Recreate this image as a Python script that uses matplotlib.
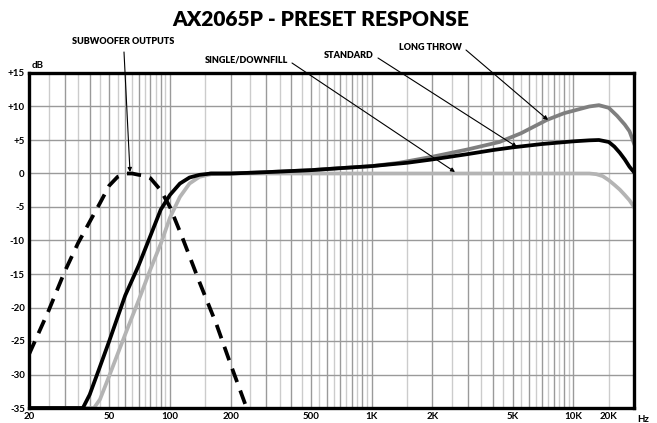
import numpy as np
import matplotlib
matplotlib.use("Agg")
import matplotlib.pyplot as plt

plt.rcParams['font.family'] = ['Lato', 'DejaVu Sans']
plt.rcParams['font.weight'] = 'bold'

# --- data (Hz, dB) ---
sub_f = [20, 25, 30, 35, 40, 45, 50, 55, 60, 65, 70, 75, 80, 90, 100, 115, 140, 170, 200, 240]
sub_db = [-27, -20.5, -14.7, -10.4, -7.2, -4.4, -1.8, -0.5, 0, 0, -0.2, -0.3, -0.7, -2.5, -5, -9.5, -16.2, -22.5, -28.5, -35]

std_f = [20, 37, 40, 45, 50, 60, 70, 80, 90, 100, 112, 125, 140, 160, 200, 300, 500, 700,
         1000, 1500, 2000, 3000, 4000, 5000, 7000, 10000, 12000, 13400, 15000, 16000, 17000, 18000, 19000, 20000]
std_db = [-35, -35, -33, -28.8, -25, -18.2, -13.7, -9.3, -5.4, -3.2, -1.5, -0.6, -0.2, 0, 0, 0.2, 0.5, 0.8,
          1.1, 1.6, 2.1, 2.9, 3.5, 3.9, 4.4, 4.8, 4.95, 5, 4.7, 4.0, 3.1, 2.1, 1.0, 0.2]

single_f = [20, 42, 45, 50, 60, 70, 80, 90, 100, 112, 125, 140, 160, 200, 1000, 10000, 12000,
            13000, 14000, 15000, 16000, 17000, 18000, 19000, 20000]
single_db = [-35, -35, -33.7, -30.2, -24, -18.9, -14.3, -10.5, -6.6, -3.5, -1.5, -0.5, -0.1, 0, 0, 0, 0,
             -0.1, -0.4, -1.0, -1.7, -2.4, -3.2, -4.0, -5]

long_f = [160, 200, 300, 500, 700, 1000, 1370, 2000, 3000, 4300, 5500, 7400, 9000, 10700, 12000,
          13400, 15000, 16500, 18000, 19000, 20000]
long_db = [0, 0, 0.2, 0.5, 0.8, 1.1, 1.6, 2.5, 3.6, 4.7, 6.0, 8.0, 9.0, 9.6, 10.0,
           10.2, 9.8, 8.6, 7.3, 6.3, 4.5]

x_ticks = [20, 50, 100, 200, 500, 1000, 2000, 5000, 10000, 15000]
x_labels = ['20', '50', '100', '200', '500', '1K', '2K', '5K', '10K', '20K']
y_ticks = [15, 10, 5, 0, -5, -10, -15, -20, -25, -30, -35]
y_labels = ['+15', '+10', '+5', '0', '-5', '-10', '-15', '-20', '-25', '-30', '-35']

fig = plt.figure(figsize=(6.57, 4.23), dpi=100)
ax = fig.add_axes([29 / 657, 15 / 423, 605 / 657, 335 / 423])
ax.set_xscale('log')
ax.set_xlim(20, 20000)
ax.set_ylim(-35, 15)

# grid: integer multiples darker, half steps lighter
for dec in [10, 100, 1000, 10000]:
    for m in np.arange(1, 10, 0.5):
        f = m * dec
        if 20 < f < 20000:
            c = '#9a9a9a' if m == int(m) else '#cccccc'
            ax.axvline(f, color=c, lw=1.0, zorder=0)
for y in y_ticks[1:-1]:
    ax.axhline(y, color='#9a9a9a', lw=1.0, zorder=0)

ax.plot(single_f, single_db, color='#b4b4b4', lw=2.7, zorder=2)
ax.plot(long_f, long_db, color='#7f7f7f', lw=2.7, zorder=2.5)
ax.plot(std_f, std_db, color='black', lw=2.7, zorder=3)
ax.plot(sub_f, sub_db, color='black', lw=2.7, linestyle=(0, (3.8, 2.4)), zorder=4)

ax.set_xticks(x_ticks)
ax.set_xticklabels(x_labels)
ax.xaxis.set_minor_locator(matplotlib.ticker.NullLocator())
ax.set_yticks(y_ticks)
ax.set_yticklabels(y_labels)
ax.tick_params(length=0, labelsize=7, pad=3)
for s in ax.spines.values():
    s.set_linewidth(2.4)
    s.set_zorder(5)

ax.text(1.005, -0.02, 'Hz', transform=ax.transAxes, fontsize=7, fontweight='bold',
        ha='left', va='top')
ax.text(0.005, 1.01, 'dB', transform=ax.transAxes, fontsize=7, fontweight='bold',
        ha='left', va='bottom')

fig.suptitle('AX2065P - PRESET RESPONSE', x=321 / 657, y=1 - 20 / 423, va='center',
             fontsize=15, fontweight='heavy')

# annotations (pixel positions converted to figure fractions)
def fp(x, y):
    return (x / 657, 1 - y / 423)

notes = [
    ('SUBWOOFER OUTPUTS', (123, 42), (124, 52), (130, 172), 'center'),
    ('SINGLE/DOWNFILL', (288, 60), (292, 63), (455, 172), 'right'),
    ('STANDARD', (374, 55), (378, 58), (517, 147), 'right'),
    ('LONG THROW', (462, 47), (466, 50), (548, 120), 'right'),
]
for txt, tpos, start, end, ha in notes:
    fig.text(*fp(*tpos), txt, fontsize=6.5, fontweight='heavy', ha=ha, va='center')
    fig.add_artist(matplotlib.patches.FancyArrowPatch(
        fp(*start), fp(*end), transform=fig.transFigure, arrowstyle='-|>',
        mutation_scale=6, lw=0.8, color='black', shrinkA=0, shrinkB=0, zorder=10))

fig.savefig('out.png', dpi=100)
